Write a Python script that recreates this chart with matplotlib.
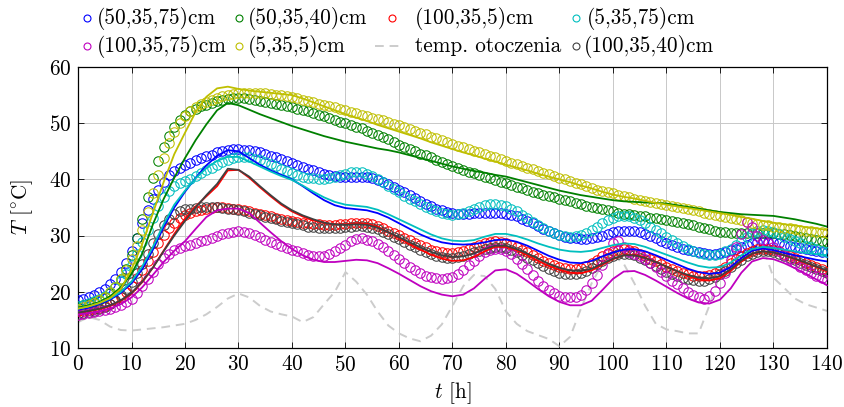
import numpy as np
import matplotlib
matplotlib.use("Agg")
import matplotlib.pyplot as plt
from matplotlib.lines import Line2D

plt.rcParams['font.family'] = 'serif'
plt.rcParams['font.serif'] = ['cmr10']
plt.rcParams['mathtext.fontset'] = 'cm'
plt.rcParams['axes.formatter.use_mathtext'] = True

# ---------------- data ----------------
hours = list(range(0, 141))          # measurement times [h]
hours_sim = list(range(0, 141, 2))   # simulation / ambient times [h]

# measured (markers)
b_m = [18.5, 18.8, 19.1, 19.5, 19.9, 20.5, 21.3, 22.3, 23.6, 25.2,
       27.2, 29.6, 32.2, 34.6, 36.6, 38.2, 39.6, 40.7, 41.5, 42.1,
       42.6, 43.0, 43.4, 43.8, 44.1, 44.4, 44.8, 45.1, 45.3, 45.4,
       45.4, 45.3, 45.2, 45.0, 44.8, 44.5, 44.2, 43.9, 43.6, 43.3,
       42.9, 42.6, 42.2, 41.9, 41.6, 41.3, 41.0, 40.8, 40.6, 40.5,
       40.4, 40.4, 40.5, 40.5, 40.4, 40.2, 39.9, 39.5, 39.1, 38.6,
       38.2, 37.7, 37.2, 36.7, 36.2, 35.7, 35.2, 34.8, 34.5, 34.2,
       34.0, 33.9, 33.9, 33.9, 34.0, 34.0, 34.1, 34.1, 34.1, 34.0,
       33.9, 33.7, 33.4, 33.0, 32.6, 32.2, 31.7, 31.2, 30.8, 30.4,
       30.1, 29.8, 29.6, 29.5, 29.4, 29.4, 29.5, 29.7, 30.0, 30.3,
       30.6, 30.8, 30.9, 30.9, 30.8, 30.6, 30.3, 29.9, 29.5, 29.1,
       28.7, 28.3, 28.0, 27.7, 27.4, 27.2, 27.0, 26.9, 26.8, 26.8,
       26.9, 27.1, 27.4, 27.7, 28.0, 28.3, 28.6, 28.8, 28.9, 28.9,
       28.8, 28.6, 28.4, 28.2, 28.0, 27.8, 27.6, 27.4, 27.2, 27.1,
       27.0]
g_m = [17.3, 17.6, 17.9, 18.2, 18.6, 19.1, 19.8, 20.8, 22.2, 24.0,
       26.5, 29.5, 33.0, 36.8, 40.3, 43.3, 45.8, 47.8, 49.3, 50.5,
       51.4, 52.1, 52.6, 53.0, 53.3, 53.6, 53.9, 54.1, 54.3, 54.4,
       54.4, 54.4, 54.3, 54.2, 54.0, 53.8, 53.6, 53.4, 53.2, 53.0,
       52.8, 52.6, 52.3, 52.1, 51.8, 51.5, 51.2, 50.9, 50.6, 50.3,
       50.0, 49.7, 49.4, 49.1, 48.7, 48.3, 47.9, 47.5, 47.1, 46.6,
       46.1, 45.7, 45.4, 45.0, 44.6, 44.3, 43.9, 43.5, 43.1, 42.7,
       42.3, 42.0, 41.7, 41.4, 41.1, 40.8, 40.5, 40.2, 39.9, 39.6,
       39.3, 39.0, 38.7, 38.4, 38.1, 37.8, 37.5, 37.3, 37.0, 36.8,
       36.6, 36.3, 36.1, 35.8, 35.6, 35.3, 35.1, 34.9, 34.7, 34.5,
       34.3, 34.1, 33.9, 33.8, 33.6, 33.5, 33.4, 33.2, 33.1, 32.9,
       32.8, 32.6, 32.4, 32.2, 32.0, 31.8, 31.5, 31.3, 31.1, 30.9,
       30.7, 30.6, 30.5, 30.5, 30.5, 30.5, 30.5, 30.5, 30.4, 30.4,
       30.4, 30.3, 30.2, 30.1, 29.9, 29.7, 29.6, 29.4, 29.2, 29.1,
       28.9]
r_m = [16.5, 16.6, 16.8, 17.0, 17.2, 17.5, 17.9, 18.4, 19.1, 20.0,
       21.1, 22.4, 23.9, 25.5, 27.1, 28.7, 30.1, 31.3, 32.3, 33.1,
       33.7, 34.1, 34.4, 34.6, 34.8, 34.9, 35.0, 35.0, 34.9, 34.8,
       34.7, 34.5, 34.3, 34.1, 33.9, 33.7, 33.4, 33.2, 33.0, 32.8,
       32.6, 32.5, 32.3, 32.2, 32.1, 32.0, 31.9, 31.9, 31.9, 32.0,
       32.1, 32.2, 32.3, 32.3, 32.2, 32.0, 31.7, 31.3, 30.9, 30.5,
       30.1, 29.6, 29.2, 28.7, 28.3, 27.9, 27.5, 27.2, 27.0, 26.9,
       26.9, 27.0, 27.3, 27.6, 28.0, 28.4, 28.7, 28.9, 29.0, 28.9,
       28.7, 28.4, 28.0, 27.5, 27.0, 26.5, 26.0, 25.5, 25.1, 24.7,
       24.4, 24.2, 24.1, 24.1, 24.3, 24.6, 25.1, 25.7, 26.3, 26.9,
       27.3, 27.5, 27.6, 27.5, 27.2, 26.8, 26.4, 25.9, 25.4, 24.9,
       24.5, 24.1, 23.7, 23.4, 23.1, 22.9, 22.8, 22.8, 23.0, 23.4,
       23.9, 24.5, 25.2, 25.8, 26.4, 26.9, 27.3, 27.6, 27.7, 27.7,
       27.5, 27.2, 26.8, 26.4, 26.0, 25.6, 25.2, 24.8, 24.4, 24.0,
       23.6]
c_m = [17.5, 17.7, 18.0, 18.3, 18.7, 19.2, 19.9, 20.8, 21.9, 23.2,
       24.8, 26.7, 28.8, 31.0, 33.2, 35.2, 36.8, 38.0, 38.8, 39.3,
       39.7, 40.1, 40.6, 41.1, 41.6, 42.1, 42.6, 43.1, 43.5, 43.8,
       44.0, 44.0, 43.9, 43.7, 43.4, 43.1, 42.7, 42.3, 41.9, 41.5,
       41.1, 40.8, 40.5, 40.3, 40.2, 40.1, 40.1, 40.2, 40.4, 40.7,
       41.0, 41.3, 41.4, 41.3, 41.0, 40.6, 40.1, 39.5, 38.9, 38.3,
       37.7, 37.1, 36.6, 36.1, 35.6, 35.1, 34.7, 34.3, 34.0, 33.8,
       33.7, 33.8, 34.0, 34.3, 34.7, 35.1, 35.4, 35.6, 35.6, 35.5,
       35.2, 34.8, 34.3, 33.7, 33.1, 32.5, 31.9, 31.3, 30.8, 30.4,
       30.1, 29.9, 29.8, 29.9, 30.1, 30.5, 31.0, 31.6, 32.2, 32.7,
       33.1, 33.4, 33.5, 33.4, 33.1, 32.7, 32.2, 31.6, 31.0, 30.4,
       29.8, 29.2, 28.6, 28.1, 27.6, 27.2, 26.9, 26.7, 26.6, 26.6,
       26.8, 27.2, 27.7, 28.4, 29.1, 29.8, 30.4, 30.8, 31.0, 30.9,
       30.6, 30.2, 29.8, 29.4, 29.0, 28.6, 28.2, 27.9, 27.6, 27.3,
       27.1]
m_m = [15.8, 16.0, 16.2, 16.4, 16.6, 16.8, 17.0, 17.3, 17.7, 18.2,
       18.8, 19.8, 21.0, 22.3, 23.6, 24.9, 26.0, 26.8, 27.4, 27.8,
       28.1, 28.4, 28.7, 29.0, 29.3, 29.6, 29.9, 30.2, 30.5, 30.7,
       30.8, 30.7, 30.4, 30.1, 29.7, 29.3, 28.9, 28.5, 28.1, 27.8,
       27.5, 27.2, 26.9, 26.6, 26.4, 26.3, 26.4, 26.7, 27.2, 27.8,
       28.4, 29.0, 29.4, 29.5, 29.3, 29.0, 28.5, 27.9, 27.2, 26.5,
       25.8, 25.1, 24.4, 23.8, 23.3, 22.9, 22.6, 22.4, 22.3, 22.4,
       22.7, 23.2, 23.9, 24.7, 25.5, 26.3, 27.0, 27.5, 27.7, 27.6,
       27.3, 26.7, 25.9, 25.0, 24.0, 23.0, 22.0, 21.1, 20.3, 19.7,
       19.3, 19.1, 19.0, 19.1, 19.5, 20.3, 21.5, 23.0, 24.8, 26.8,
       28.6, 29.0, 28.0, 27.1, 26.7, 26.4, 25.9, 25.2, 24.4, 23.6,
       22.8, 22.0, 21.3, 20.6, 20.0, 19.4, 19.0, 18.8, 19.2, 20.2,
       21.6, 23.4, 25.6, 28.0, 30.2, 32.5, 31.5, 30.0, 29.2, 28.6,
       28.0, 27.3, 26.6, 25.9, 25.2, 24.5, 23.9, 23.4, 22.9, 22.5,
       22.1]
y_m = [17.0, 17.3, 17.6, 18.0, 18.5, 19.1, 19.9, 20.9, 22.2, 23.8,
       25.8, 28.2, 31.0, 34.2, 37.5, 40.8, 43.8, 46.4, 48.5, 50.1,
       51.3, 52.2, 52.9, 53.4, 53.8, 54.2, 54.5, 54.8, 55.0, 55.2,
       55.3, 55.4, 55.4, 55.4, 55.4, 55.3, 55.2, 55.1, 55.0, 54.8,
       54.6, 54.4, 54.2, 54.0, 53.8, 53.5, 53.3, 53.0, 52.8, 52.5,
       52.3, 52.0, 51.8, 51.5, 51.3, 51.0, 50.8, 50.5, 50.2, 49.9,
       49.6, 49.3, 49.0, 48.6, 48.3, 48.0, 47.6, 47.3, 47.0, 46.6,
       46.3, 46.0, 45.7, 45.4, 45.1, 44.8, 44.5, 44.2, 43.9, 43.6,
       43.3, 43.0, 42.7, 42.4, 42.1, 41.8, 41.5, 41.2, 40.9, 40.6,
       40.3, 40.0, 39.7, 39.4, 39.1, 38.8, 38.5, 38.2, 38.0, 37.7,
       37.5, 37.3, 37.0, 36.8, 36.6, 36.4, 36.2, 36.0, 35.8, 35.6,
       35.4, 35.3, 35.1, 34.9, 34.7, 34.5, 34.3, 34.1, 33.9, 33.7,
       33.5, 33.3, 33.1, 32.9, 32.7, 32.5, 32.3, 32.1, 31.9, 31.8,
       31.6, 31.5, 31.4, 31.3, 31.2, 31.0, 30.9, 30.8, 30.7, 30.6,
       30.5]
k_m = [16.0, 16.2, 16.4, 16.6, 16.9, 17.3, 17.8, 18.5, 19.4, 20.5,
       21.8, 23.3, 25.0, 26.8, 28.6, 30.3, 31.8, 33.0, 33.9, 34.4,
       34.7, 34.8, 34.9, 35.0, 35.0, 35.0, 35.0, 34.9, 34.8, 34.7,
       34.5, 34.3, 34.1, 33.8, 33.6, 33.3, 33.1, 32.9, 32.6, 32.4,
       32.2, 32.0, 31.8, 31.6, 31.5, 31.4, 31.3, 31.3, 31.3, 31.4,
       31.5, 31.6, 31.7, 31.7, 31.6, 31.4, 31.1, 30.7, 30.3, 29.8,
       29.4, 28.9, 28.4, 27.9, 27.5, 27.1, 26.7, 26.4, 26.2, 26.1,
       26.1, 26.2, 26.4, 26.7, 27.0, 27.3, 27.6, 27.8, 27.9, 27.9,
       27.8, 27.5, 27.1, 26.6, 26.1, 25.6, 25.1, 24.6, 24.1, 23.7,
       23.4, 23.2, 23.1, 23.1, 23.3, 23.7, 24.3, 24.9, 25.5, 26.0,
       26.4, 26.7, 26.8, 26.7, 26.5, 26.1, 25.6, 25.1, 24.6, 24.1,
       23.6, 23.2, 22.8, 22.5, 22.3, 22.1, 22.0, 22.0, 22.2, 22.6,
       23.1, 23.7, 24.4, 25.1, 25.7, 26.3, 26.8, 27.1, 27.3, 27.3,
       27.1, 26.8, 26.4, 26.0, 25.6, 25.2, 24.8, 24.4, 24.0, 23.7,
       23.4]

# simulated (solid lines), every 2 h
y_l = [17.0, 17.4, 18.0, 18.9, 20.5, 24.0, 28.5, 34.0, 39.5, 44.5,
       48.3, 52.0, 54.7, 56.2, 56.5, 56.1, 55.8, 55.6, 55.4, 55.2,
       55.0, 54.4, 53.7, 53.0, 52.3, 51.6, 51.0, 50.4, 49.7, 49.1,
       48.5, 47.9, 47.3, 46.6, 46.0, 45.4, 44.8, 44.3, 43.7, 43.2,
       42.6, 42.1, 41.6, 41.0, 40.5, 40.0, 39.5, 38.9, 38.4, 37.8,
       37.3, 36.9, 36.6, 36.2, 35.8, 35.5, 35.2, 34.9, 34.6, 34.3,
       34.0, 33.7, 33.3, 33.0, 32.6, 32.3, 32.0, 31.8, 31.5, 31.3,
       31.0]
g_l = [17.2, 17.6, 18.2, 19.2, 20.8, 23.2, 26.8, 32.0, 36.5, 40.3,
       43.8, 47.0, 49.8, 52.3, 53.6, 53.2, 52.4, 51.6, 50.9, 50.2,
       49.5, 48.9, 48.3, 47.7, 47.2, 46.7, 46.3, 45.9, 45.5, 45.2,
       44.8, 44.3, 43.8, 43.3, 42.8, 42.3, 41.9, 41.5, 41.2, 40.8,
       40.5, 40.0, 39.5, 39.0, 38.5, 38.0, 37.6, 37.2, 36.9, 36.6,
       36.3, 36.1, 36.0, 35.9, 35.8, 35.7, 35.4, 35.1, 34.8, 34.5,
       34.2, 34.0, 33.8, 33.7, 33.6, 33.5, 33.2, 32.9, 32.5, 32.1,
       31.6]
b_l = [16.8, 17.2, 17.8, 18.6, 19.8, 21.5, 24.0, 27.5, 31.5, 35.0,
       37.8, 40.3, 42.5, 44.2, 45.2, 45.0, 43.8, 42.6, 41.6, 40.8,
       40.0, 38.8, 37.5, 36.3, 35.4, 34.9, 34.7, 34.5, 34.0, 33.2,
       32.2, 31.2, 30.2, 29.4, 28.8, 28.5, 28.4, 28.5, 28.8, 29.2,
       29.3, 28.9, 28.2, 27.3, 26.4, 25.7, 25.2, 25.1, 25.5, 26.3,
       27.0, 27.5, 27.6, 27.2, 26.5, 25.7, 24.9, 24.1, 23.5, 23.2,
       23.4, 24.4, 26.0, 27.3, 27.7, 27.4, 26.9, 26.5, 26.1, 25.7,
       25.4]
c_l = [17.0, 17.4, 18.0, 18.8, 20.0, 21.8, 24.5, 28.0, 32.0, 35.5,
       38.0, 40.2, 42.0, 43.3, 44.0, 44.0, 43.2, 42.3, 41.4, 40.6,
       39.9, 38.9, 37.8, 36.8, 36.0, 35.5, 35.3, 35.1, 34.6, 33.8,
       32.9, 32.0, 31.1, 30.2, 29.5, 29.1, 29.0, 29.2, 29.8, 30.3,
       30.3, 29.9, 29.3, 28.6, 28.0, 27.5, 27.2, 27.1, 27.3, 27.8,
       28.3, 28.6, 28.5, 28.0, 27.3, 26.6, 25.9, 25.2, 24.6, 24.3,
       24.4, 25.2, 26.5, 27.6, 28.0, 27.8, 27.5, 27.2, 26.9, 26.7,
       26.5]
r_l = [16.2, 16.5, 16.9, 17.5, 18.4, 19.7, 21.7, 24.3, 27.3, 30.3,
       33.0, 35.2, 37.0, 38.8, 41.6, 41.7, 40.3, 38.6, 37.0, 35.5,
       34.3, 33.4, 32.7, 32.2, 32.0, 32.0, 32.2, 32.1, 31.6, 30.6,
       29.5, 28.5, 27.5, 26.6, 25.9, 25.5, 25.6, 26.2, 27.2, 28.0,
       28.0, 27.4, 26.5, 25.5, 24.6, 23.9, 23.4, 23.3, 23.8, 24.8,
       25.8, 26.5, 26.6, 26.1, 25.3, 24.5, 23.6, 22.8, 22.2, 22.0,
       22.4, 23.7, 25.4, 26.7, 27.2, 27.0, 26.5, 25.8, 25.1, 24.4,
       23.6]
k_l = [16.3, 16.6, 17.0, 17.6, 18.5, 19.8, 21.8, 24.3, 27.2, 30.0,
       32.6, 35.0, 37.2, 39.2, 41.9, 41.7, 40.5, 38.8, 37.2, 35.7,
       34.5, 33.6, 32.9, 32.3, 32.0, 31.9, 32.0, 31.9, 31.4, 30.6,
       29.7, 28.8, 27.9, 27.1, 26.5, 26.2, 26.3, 26.8, 27.6, 28.2,
       28.2, 27.6, 26.8, 25.9, 25.0, 24.3, 23.8, 23.7, 24.1, 25.0,
       25.9, 26.5, 26.5, 26.0, 25.3, 24.5, 23.7, 23.0, 22.5, 22.4,
       22.8, 24.0, 25.6, 26.8, 27.2, 27.0, 26.5, 25.9, 25.2, 24.5,
       23.8]
m_l = [16.0, 16.2, 16.5, 17.0, 17.8, 19.0, 20.8, 23.0, 25.3, 27.3,
       29.0, 31.2, 33.3, 34.5, 34.8, 34.8, 34.0, 32.3, 30.6, 29.0,
       27.6, 26.5, 25.7, 25.3, 25.3, 25.5, 25.7, 25.6, 25.1, 24.2,
       23.2, 22.1, 21.0, 20.1, 19.5, 19.2, 19.5, 20.6, 22.3, 23.8,
       24.0, 23.2, 21.9, 20.5, 19.2, 18.2, 17.6, 17.6, 18.4, 20.3,
       22.3, 23.6, 23.7, 23.0, 22.0, 20.9, 19.8, 18.8, 18.1, 17.9,
       18.6, 20.6, 23.4, 25.4, 26.0, 25.8, 25.1, 24.2, 23.2, 22.2,
       21.2]
a_l = [14.6, 15.5, 15.0, 13.8, 13.2, 13.1, 13.3, 13.5, 13.7, 14.0,
       14.3, 15.0, 16.0, 17.3, 18.8, 19.7, 19.0, 17.5, 16.5, 16.0,
       15.6, 14.6, 15.5, 17.8, 20.0, 23.5, 21.8, 19.5, 16.5, 14.0,
       12.6, 11.7, 11.2, 12.2, 14.2, 17.5, 21.0, 23.0, 22.8, 20.5,
       16.5, 14.3, 13.0, 12.3, 11.6, 10.3, 12.0, 17.0, 21.5, 25.0,
       26.5, 25.0, 21.5, 17.5, 14.3, 13.3, 13.0, 12.6, 12.6, 17.5,
       23.3, 27.0, 29.5, 30.0, 28.0, 22.5, 20.7, 18.8, 17.8, 17.2,
       16.6]

labels = ['(50,35,75)cm', '(50,35,40)cm', '(100,35,5)cm', '(5,35,75)cm',
          '(100,35,75)cm', '(5,35,5)cm', 'temp. otoczenia', '(100,35,40)cm']

C_BLUE, C_GREEN, C_RED, C_CYAN = '#0000ff', '#008000', '#ff0000', '#00bfbf'
C_MAG, C_YEL, C_DARK, C_AMB = '#bf00bf', '#bfbf00', '#404040', '#cccccc'

# ---------------- figure ----------------
W, H = 845, 407
fig = plt.figure(figsize=(W / 100, H / 100), dpi=100)
ax = fig.add_axes([78 / W, 1 - 348 / H, 749 / W, 281 / H])

ax.plot(hours_sim, a_l, color=C_AMB, lw=1.4, ls=(0, (4.5, 3)), zorder=1)

mk = dict(marker='o', ls='none', ms=6.8, mew=0.75, mfc='none', zorder=3)
for data, col in [(b_m, C_BLUE), (g_m, C_GREEN), (r_m, C_RED), (c_m, C_CYAN),
                  (y_m, C_YEL), (k_m, C_DARK), (m_m, C_MAG)]:
    ax.plot(hours, data, mec=col, **mk)

for data, col in [(b_l, C_BLUE), (g_l, C_GREEN), (r_l, C_RED), (c_l, C_CYAN),
                  (m_l, C_MAG), (y_l, C_YEL), (k_l, C_DARK)]:
    ax.plot(hours_sim, data, color=col, lw=1.3, zorder=4)

ax.set_xlim(0, 140)
ax.set_ylim(10, 60)
ax.set_xticks(range(0, 141, 10))
ax.set_yticks(range(10, 61, 10))
ax.grid(True, color='#c8c8c8', lw=0.7)
ax.set_axisbelow(True)
ax.tick_params(direction='in', top=True, right=True, length=4, width=0.6,
               labelsize=15.3, pad=5)
for s in ax.spines.values():
    s.set_linewidth(0.9)
ax.set_xlabel(r'$t$ [h]', fontsize=15.3, labelpad=4)
ax.set_ylabel(r'$T$ [$^{\circ}$C]', fontsize=15.3, labelpad=10)

# ---------------- legend (manual, 2 rows x 4 columns) ----------------
rows_y = [1 - 18 / H, 1 - 46 / H]
mark_x = [87, 239, 392, 576]
text_x = [[97, 248, 415, 587], [97, 248, 415, 584]]
entries = [[(C_BLUE, 'o'), (C_GREEN, 'o'), (C_RED, 'o'), (C_CYAN, 'o')],
           [(C_MAG, 'o'), (C_YEL, 'o'), (C_AMB, '--'), (C_DARK, 'o')]]
k = 0
for r in range(2):
    for c in range(4):
        col, kind = entries[r][c]
        yy = rows_y[r]
        if kind == 'o':
            fig.add_artist(Line2D([mark_x[c] / W], [yy], marker='o', ls='none',
                                  ms=5.0, mew=0.8, mfc='none', mec=col,
                                  transform=fig.transFigure))
        else:
            fig.add_artist(Line2D([375 / W, 404 / W], [yy, yy], color=col, lw=1.4,
                                  ls=(0, (4.5, 3)), transform=fig.transFigure))
        fig.text(text_x[r][c] / W, yy, labels[k], fontsize=15.3, ha='left',
                 va='center')
        k += 1

fig.savefig('out.png', dpi=100)
